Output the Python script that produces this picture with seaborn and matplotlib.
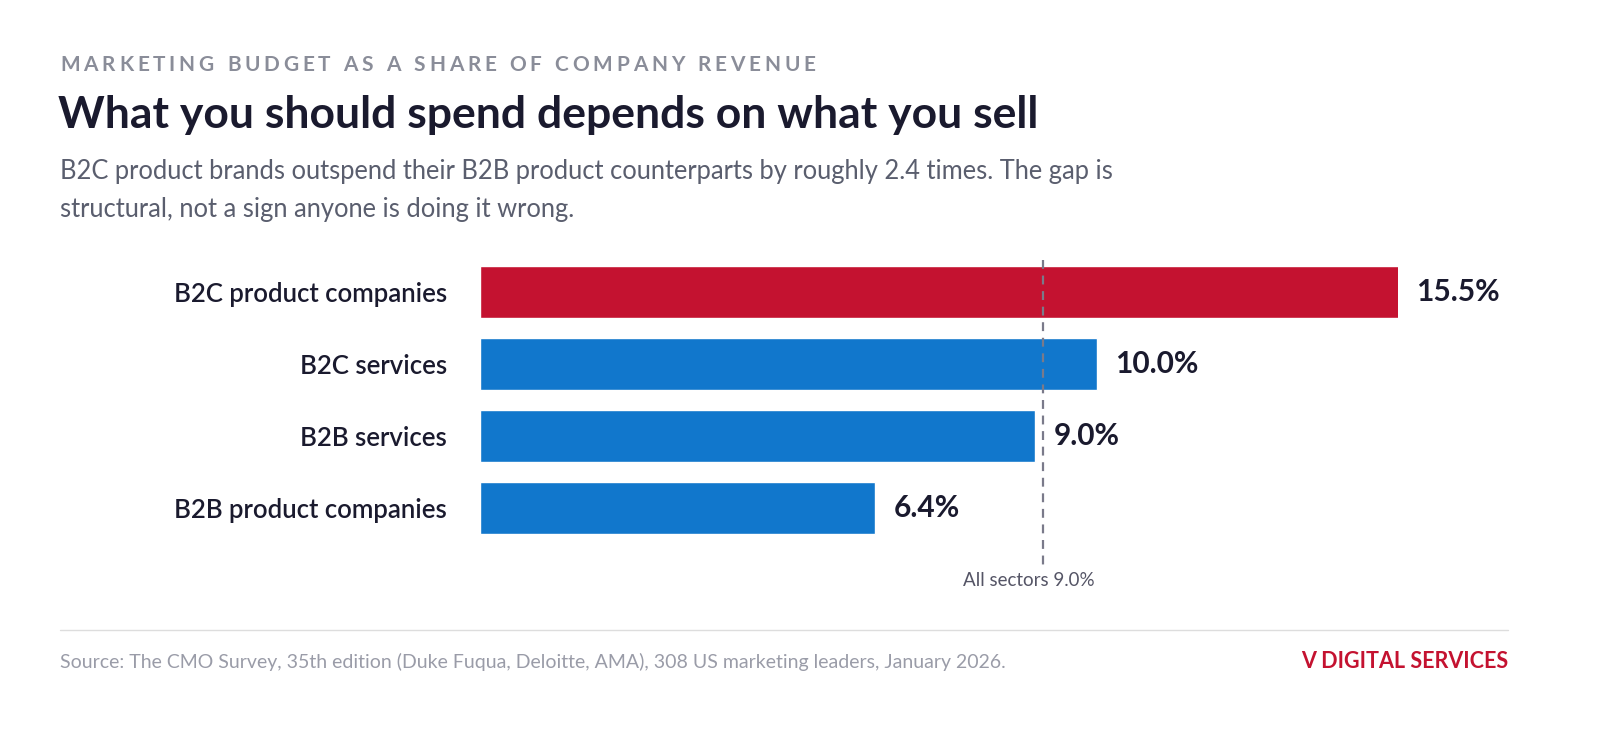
import matplotlib
matplotlib.use("Agg")
import matplotlib.pyplot as plt
import seaborn as sns
import pandas as pd

categories = ["B2C product companies", "B2C services", "B2B services", "B2B product companies"]
values = [15.5, 10.0, 9.0, 6.4]
value_labels = ["15.5%", "10.0%", "9.0%", "6.4%"]
avg_value = 9.0
avg_label = "All sectors 9.0%"
colors = ["#C41230", "#1177CC", "#1177CC", "#1177CC"]

sns.set_style("white")
plt.rcParams['font.family'] = ['Lato', 'DejaVu Sans']

fig = plt.figure(figsize=(16, 7.4), dpi=100)
W, H = 1600, 740
ax = fig.add_axes([480/W, 1-544/H, 918/W, 288/H])
df = pd.DataFrame({"cat": categories, "val": values})
sns.barplot(data=df, y="cat", x="val", hue="cat", palette=colors, legend=False,
            width=0.72, ax=ax, saturation=1)
ax.set_xlim(0, 918/61.7)
ax.set_ylim(3.5, -0.5)
for s in ax.spines.values():
    s.set_visible(False)
ax.set_xticks([])
ax.set_xlabel(""); ax.set_ylabel("")
ax.tick_params(axis='y', length=0, pad=24, labelsize=18.5, labelcolor="#1a1a2e")
for lab in ax.get_yticklabels():
    lab.set_fontweight("semibold")
xmax = ax.get_xlim()[1]
for i, (v, t) in enumerate(zip(values, value_labels)):
    ax.text(min(v, xmax) + 0.3, i, t, va="center", ha="left", fontsize=21.5,
            fontweight="bold", color="#1a1a2e", clip_on=False)
ax.plot([avg_value + 0.13, avg_value + 0.13], [-0.44, 3.86], ls=(0, (4, 3)), color="#7a7a8a",
        lw=1.6, clip_on=False, zorder=5)
ax.text(avg_value - 0.1, 4.0, avg_label, ha="center", va="center", fontsize=13.5,
        color="#555566", clip_on=False)

# letter-spaced header
header = "MARKETING BUDGET AS A SHARE OF COMPANY REVENUE"
fig.canvas.draw()
r = fig.canvas.get_renderer()
x = 60
for ch in header:
    t = fig.text(x/W, 1-65/H, ch, fontsize=15, color="#8a8d99", fontweight="bold", va="center")
    w = t.get_window_extent(r).width if ch != " " else 5.5
    x += w + 3.8

fig.text(58/W, 1-115/H, "What you should spend depends on what you sell", fontsize=32,
         color="#1a1a2e", fontweight="bold", va="center")
fig.text(60/W, 1-172/H, "B2C product brands outspend their B2B product counterparts by roughly 2.4 times. The gap is",
         fontsize=18.4, color="#5a5e6e", va="center")
fig.text(60/W, 1-210/H, "structural, not a sign anyone is doing it wrong.",
         fontsize=18.4, color="#5a5e6e", va="center")
fig.add_artist(plt.Line2D([60/W, 1508/W], [1-630/H, 1-630/H], color="#dddddd", lw=1))
fig.text(60/W, 1-662/H, "Source: The CMO Survey, 35th edition (Duke Fuqua, Deloitte, AMA), 308 US marketing leaders, January 2026.",
         fontsize=14, color="#9a9ca8", va="center")
fig.text(1508/W, 1-662/H, "V DIGITAL SERVICES", fontsize=15.5, color="#C41230",
         fontweight="bold", va="center", ha="right")
fig.savefig("out.png", dpi=100, facecolor="white")
